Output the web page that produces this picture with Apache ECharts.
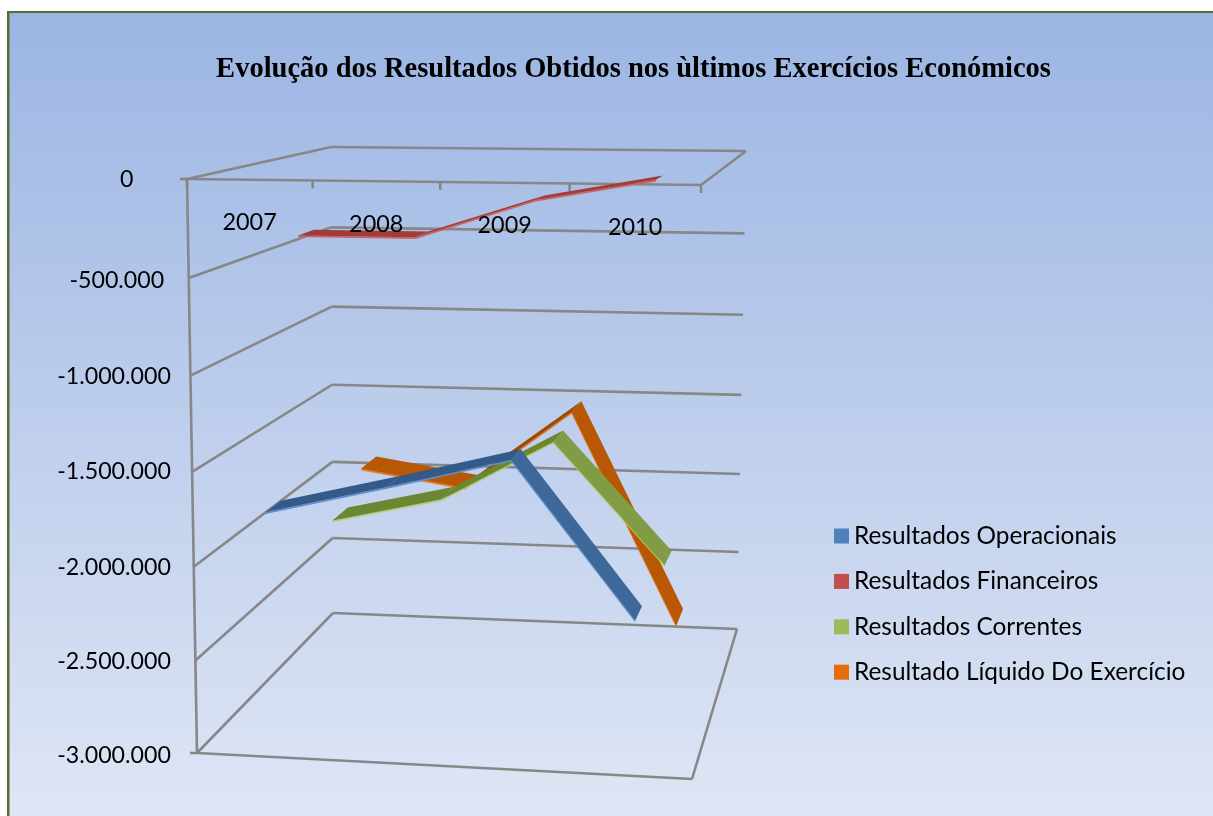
<!DOCTYPE html>
<html><head><meta charset="utf-8">
<style>html,body{margin:0;padding:0;background:#fff}#c{width:1213px;height:816px}</style>
<script src="https://cdn.jsdelivr.net/npm/echarts@6/dist/echarts.min.js"></script>
</head><body><div id="c"></div>
<script>
const categories = ['2007','2008','2009','2010'];
const yTicks = [0,-500000,-1000000,-1500000,-2000000,-2500000,-3000000];
const yTickLabels = ['0','-500.000','-1.000.000','-1.500.000','-2.000.000','-2.500.000','-3.000.000'];
const resultadosOperacionais = [-1746000,-1590000,-1427000,-2245000];
const resultadosFinanceiros = [-363000,-363000,-156000,-41000];
const resultadosCorrentes = [-2095000,-1947000,-1590000,-2290000];
const resultadoLiquido = [-1925000,-2025000,-1538000,-2840000];

// projected box corners of the 3D plot
const FL0=[187,179],FR0=[701,185],BL0=[331,147],BR0=[746,151];
const FL3=[197,753],FR3=[692,779],BL3=[333,613],BR3=[737,629];
const WARP_T=0.96, WARP_U=1.03, WARP_W=0.82, HALF=0.06, EDGE=0.003;
const lerp=(a,b,f)=>[a[0]+(b[0]-a[0])*f,a[1]+(b[1]-a[1])*f];
const warp=(f,k)=>f<=0?0:f/(f+(1-f)*k);
function project(u,t,wp){
  const tp=warp(t,WARP_T), up=warp(u,WARP_U);
  const top=lerp(lerp(FL0,FR0,up),lerp(BL0,BR0,up),wp);
  const bot=lerp(lerp(FL3,FR3,up),lerp(BL3,BR3,up),wp);
  return lerp(top,bot,tp);
}
function unit(c,p){return [(p[0]-c.x)/c.width,(p[1]-c.y)/c.height];}
const GRID='#878787';
const line=(a,b)=>({type:'line',shape:{x1:a[0],y1:a[1],x2:b[0],y2:b[1]},style:{stroke:GRID,lineWidth:2.6}});

function frameItem(params,api){
  const c=params.coordSys, v=api.value(1), i=params.dataIndex;
  const t=unit(c,api.coord([0,v]))[1];
  const kids=[line(project(0,t,0),project(0,t,1)),line(project(0,t,1),project(1,t,1))];
  const fl=project(0,t,0);
  if(i===0||i===yTicks.length-1){
    kids.push(line(project(1,t,1),project(1,t,0)),line(project(0,t,0),project(1,t,0)));
    kids.push(line([fl[0]-7,fl[1]],fl));
  }
  if(i===0){
    kids.push(line(project(0,0,0),project(0,1,0)));
    for(let k=0;k<=categories.length;k++){
      const p=project(k/categories.length,0,0);
      kids.push(line(p,[p[0],p[1]+8]));
    }
  }
  const label=yTickLabels[i];
  kids.push({type:'text',x:128-1.4*label.length,y:fl[1]+1+[0,2,0,-1,0,0,2][i],
    style:{text:label,font:'23.2px Lato',fill:'#000',textAlign:'center',textVerticalAlign:'middle'}});
  return {type:'group',children:kids};
}
function catItem(params,api){
  const c=params.coordSys;
  const u=unit(c,api.coord([api.value(0),0]))[0];
  const p=project(u,0,0);
  return {type:'text',x:p[0],y:p[1]+43,
    style:{text:categories[params.dataIndex],font:'23.4px Lato',fill:'#000',textAlign:'center',textVerticalAlign:'middle'}};
}
function ribbon(values,depth,pal){
  const centre=warp(depth,WARP_W);
  return function(params,api){
    const i=params.dataIndex;
    if(i>=values.length-1) return null;
    const c=params.coordSys;
    const a=unit(c,api.coord([i,values[i]])), b=unit(c,api.coord([i+1,values[i+1]]));
    const w0=centre-HALF,w1=centre+HALF;
    const top=[project(a[0],a[1],w0),project(b[0],b[1],w0),project(b[0],b[1],w1),project(a[0],a[1],w1)];
    const edge=[project(a[0],a[1],w0),project(b[0],b[1],w0),project(b[0],b[1]+EDGE,w0),project(a[0],a[1]+EDGE,w0)];
    const rising=values[i+1]>values[i];
    return {type:'group',children:[
      {type:'polygon',shape:{points:edge},style:{fill:pal.edge}},
      {type:'polygon',shape:{points:top},style:{fill:rising?pal.rise:pal.fall}}
    ]};
  };
}
const custom=(name,data,renderItem,z,color)=>({name,type:'custom',coordinateSystem:'cartesian2d',clip:false,silent:true,
  data,renderItem,z,itemStyle:color?{color}:undefined,encode:{x:0,y:1}});
const pts=v=>v.map((y,i)=>[i,y]);

const option={
  animation:false,
  backgroundColor:'#fff',
  title:{text:'Evolução dos Resultados Obtidos nos ùltimos Exercícios Económicos',left:628.5,top:50,textAlign:'center',
    textStyle:{fontFamily:'Liberation Serif',fontWeight:'bold',fontSize:28.5,color:'#000'}},
  grid:{left:187,top:179,width:514,height:574,show:false},
  xAxis:{type:'category',data:categories,show:false},
  yAxis:{type:'value',min:-3000000,max:0,interval:500000,show:false},
  legend:{data:['Resultados Operacionais','Resultados Financeiros','Resultados Correntes','Resultado Líquido Do Exercício'],
    orient:'vertical',left:834,top:524,padding:0,itemWidth:15,itemHeight:15,itemGap:21.4,icon:'rect',selectedMode:false,
    textStyle:{fontFamily:'Lato',fontSize:24.4,color:'#000'}},
  graphic:[
    {type:'rect',z:-10,silent:true,shape:{x:8,y:12,width:1205,height:804},
     style:{fill:new echarts.graphic.LinearGradient(0,0,0,1,[{offset:0,color:'#9bb5e3'},{offset:1,color:'#dfe6f5'}])}},
    {type:'rect',z:-9,silent:true,shape:{x:7,y:11,width:1206,height:2},style:{fill:'#5b6b32'}},
    {type:'rect',z:-9,silent:true,shape:{x:7,y:11,width:2.5,height:805},style:{fill:'#5b6b32'}}
  ],
  series:[
    custom('frame',yTicks.map(v=>[0,v]),frameItem,1),
    custom('Resultado Líquido Do Exercício',pts(resultadoLiquido),ribbon(resultadoLiquido,7/8,{rise:'#9c4a03',fall:'#b85804',edge:'#f07410'}),2,'#e46c0a'),
    custom('Resultados Correntes',pts(resultadosCorrentes),ribbon(resultadosCorrentes,5/8,{rise:'#6b8733',fall:'#829c46',edge:'#b0d060'}),3,'#9bbb59'),
    custom('Resultados Financeiros',pts(resultadosFinanceiros),ribbon(resultadosFinanceiros,3/8,{rise:'#a23c3a',fall:'#a03c3a',edge:'#d0605c'}),4,'#c0504d'),
    custom('Resultados Operacionais',pts(resultadosOperacionais),ribbon(resultadosOperacionais,1/8,{rise:'#345a8a',fall:'#3e6899',edge:'#5a8fd0'}),5,'#4f81bd'),
    custom('categorias',categories.map((c,i)=>[i,0]),catItem,6)
  ]
};
echarts.init(document.getElementById('c')).setOption(option);
</script></body></html>
